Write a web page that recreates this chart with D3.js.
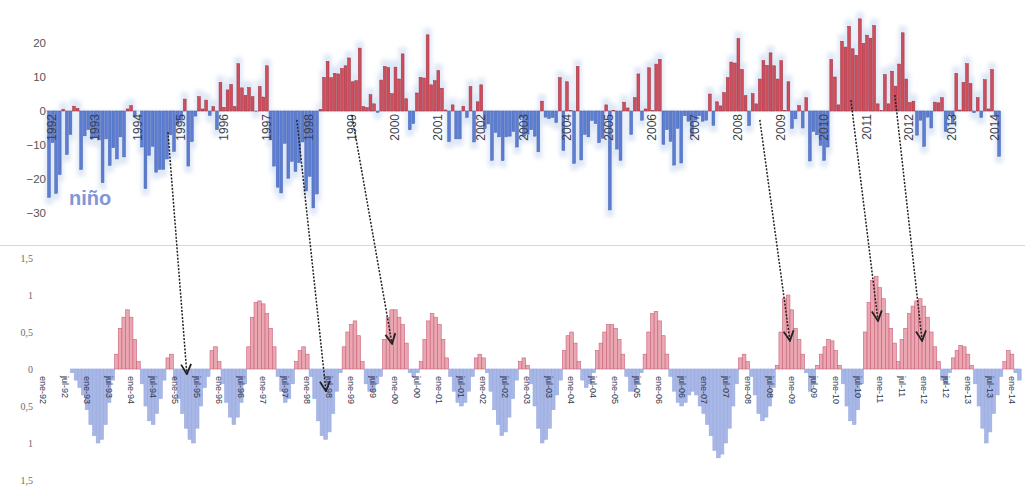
<!DOCTYPE html>
<html>
<head>
<meta charset="utf-8">
<script src="https://cdn.jsdelivr.net/npm/d3@7"></script>
<style>
  body { margin: 0; background: #fff; }
  svg { display: block; }
</style>
</head>
<body>
<svg></svg>
<script>
// monthly index, ene-1992 .. mar-2014 (one value per month)
const soi = [
  -25.4, -9.3, -24.2, -18.7, 0.5, -12.8, -6.9, 1.4, 0.8, -17.2, -7.3, -5.5,      // 1992
  -8.2, -7.9, -8.5, -21.1, -8.2, -16.0, -10.8, -14.1, -7.6, -13.5, 0.6, 1.6,     // 1993
  -1.5, 0.0, -10.6, -22.8, -13.0, -10.4, -18.0, -17.2, -17.2, -14.1, -7.0, -11.9,// 1994
  -4.0, -2.7, 3.5, -16.2, -9.0, -1.5, 4.2, 0.6, 3.2, -1.3, 1.3, -5.5,            // 1995
  8.4, 1.1, 6.2, 7.8, 1.3, 13.9, 6.8, 4.6, 6.9, 4.2, -0.1, 7.2,                  // 1996
  4.1, 13.3, -8.5, -16.2, -22.4, -24.1, -9.5, -19.8, -14.8, -17.8, -15.2, -9.1,  // 1997
  -23.5, -19.2, -28.5, -24.4, 0.5, 9.9, 14.6, 9.8, 11.1, 10.9, 12.5, 13.3,       // 1998
  15.6, 8.6, 8.9, 18.5, 1.3, 1.0, 4.8, 2.1, -0.4, 9.1, 13.1, 12.8,               // 1999
  5.1, 12.9, 9.4, 16.8, 3.6, -5.5, -3.7, 5.3, 9.9, 9.7, 22.4, 7.7,               // 2000
  8.9, 11.9, 6.7, 0.3, -9.0, 1.8, -8.2, -8.2, 1.4, -1.9, 7.2, -9.1,              // 2001
  2.7, 7.7, -5.2, -3.8, -14.5, -6.3, -7.6, -14.6, -7.6, -7.4, -6.0, -10.6,       // 2002
  -2.0, -7.4, -6.8, -5.5, -7.4, -12.0, 2.9, -1.8, -2.2, -1.9, -3.4, 9.8,         // 2003
  -11.6, 8.6, 0.2, -15.4, 13.1, -14.4, -6.9, -7.6, -2.8, -3.7, -9.3, -8.0,       // 2004
  1.8, -29.1, 0.2, -11.2, -14.5, 2.6, 0.9, -6.9, 3.9, 10.9, -2.7, 0.6,           // 2005
  12.7, 0.1, 13.8, 15.2, -9.8, -5.5, -8.9, -15.9, -5.1, -15.3, -1.4, -3.0,       // 2006
  -7.3, -2.7, -1.4, -3.0, -2.7, 5.0, -4.2, 2.7, 1.5, 5.4, 9.8, 14.4,             // 2007
  14.1, 21.3, 12.2, 4.5, -4.3, 5.1, 2.1, 9.4, 14.8, 13.4, 17.1, 13.3,            // 2008
  9.4, 14.8, 0.2, 8.6, -5.1, -2.3, 1.6, -5.0, 3.9, -14.7, -6.0, -7.0,            // 2009
  -10.1, -14.5, -10.6, 15.2, 10.0, 1.8, 20.5, 18.8, 24.9, 18.3, 16.4, 27.1,      // 2010
  19.9, 22.3, 21.4, 25.1, 2.1, 0.2, 10.7, 2.1, 11.7, 7.3, 13.8, 23.0,            // 2011
  9.4, 2.5, 2.9, -7.1, -2.7, -10.4, -1.8, -5.0, 2.6, 2.4, 3.9, -6.0,             // 2012
  -1.1, -3.6, 11.1, 0.3, 8.4, 13.9, 8.1, -0.5, 3.9, -1.9, 9.2, 0.6,              // 2013
  12.2, -1.3, -13.3                                                              // 2014
];

// lower panel anomaly, ene-92 .. mar-14
const anomalia = [
  0, 0, 0, 0, 0, 0, 0, 0, -0.05, -0.15, -0.25, -0.35,                 // 1992
  -0.55, -0.75, -0.9, -1.0, -0.95, -0.75, -0.45, -0.15, 0.2, 0.55, 0.7, 0.8,
  0.7, 0.4, 0.1, -0.2, -0.5, -0.7, -0.75, -0.6, -0.4, -0.15, 0.15, 0.2,
  -0.15, -0.4, -0.6, -0.8, -0.95, -1.0, -0.8, -0.5, -0.25, -0.1, 0.25, 0.3,
  0.1, -0.2, -0.45, -0.65, -0.75, -0.65, -0.45, -0.2, 0.3, 0.7, 0.9, 0.92,
  0.88, 0.75, 0.55, 0.3, -0.1, -0.3, -0.45, -0.4, -0.2, 0.1, 0.25, 0.3,
  0.2, -0.1, -0.4, -0.7, -0.9, -0.95, -0.85, -0.6, -0.3, -0.05, 0.3, 0.5,
  0.6, 0.65, 0.45, 0.1, -0.2, -0.3, -0.3, -0.2, -0.1, 0.4, 0.7, 0.8,
  0.8, 0.7, 0.6, 0.35, -0.05, -0.1, -0.05, 0.1, 0.4, 0.65, 0.75, 0.7,   // 2000
  0.6, 0.4, 0.15, -0.1, -0.3, -0.45, -0.5, -0.45, -0.3, -0.1, 0.15, 0.2,
  0.15, -0.05, -0.3, -0.55, -0.75, -0.9, -0.85, -0.65, -0.4, -0.15, 0.1, 0.15,
  0.05, -0.2, -0.5, -0.8, -1.0, -0.95, -0.8, -0.55, -0.35, -0.15, 0.25, 0.45,
  0.5, 0.35, 0.1, -0.15, -0.25, -0.2, -0.05, 0.25, 0.35, 0.5, 0.6, 0.6,
  0.55, 0.4, 0.2, -0.1, -0.3, -0.3, -0.2, -0.05, 0.2, 0.5, 0.75, 0.78,
  0.65, 0.45, 0.2, -0.1, -0.3, -0.45, -0.5, -0.45, -0.35, -0.3, -0.35, -0.5,
  -0.6, -0.75, -0.9, -1.1, -1.2, -1.15, -1.0, -0.8, -0.5, -0.2, 0.15, 0.2,
  0.1, -0.1, -0.35, -0.6, -0.7, -0.65, -0.5, -0.25, 0.05, 0.5, 0.95, 1.0,
  0.8, 0.55, 0.4, 0.2, -0.05, -0.3, -0.2, 0.05, 0.2, 0.3, 0.4, 0.38,
  0.25, 0.05, -0.2, -0.5, -0.7, -0.75, -0.55, -0.2, 0.5, 0.9, 1.2, 1.25, // 2010
  1.1, 0.95, 0.75, 0.55, 0.35, 0.1, 0.4, 0.55, 0.75, 0.85, 0.92, 0.95,
  0.85, 0.7, 0.5, 0.3, 0.1, -0.15, -0.2, -0.05, 0.15, 0.25, 0.32, 0.3,
  0.2, 0.05, -0.2, -0.5, -0.8, -1.0, -0.85, -0.6, -0.35, -0.1, 0.1, 0.25,
  0.2, -0.05, -0.15
];

const years = d3.range(1992, 2015);
const halfYear = ["ene", "jul"];
const topTicks = [20, 10, 0, -10, -20, -30];
const bottomTicks = [1.5, 1, 0.5, 0, -0.5, -1, -1.5];

// arrows: [month, value] in upper panel -> [month, value] in lower panel
const arrowStart = [[33.3, -6.2], [69.4, -2.6], [84.8, -1.2], [199.0, -2.6], [224.5, 3.2], [236.8, 4.7]];
const arrowEnd   = [[39.2, -0.07], [77.1, -0.3], [95.1, 0.34], [203.5, 0.38], [227.5, 0.65], [239.5, 0.38]];

const svgWidth = 1025, svgHeight = 497;

const svg = d3.select("svg")
    .attr("width", svgWidth)
    .attr("height", svgHeight);

const defs = svg.append("defs");
defs.append("filter").attr("id", "haze")
    .attr("x", "-50%").attr("y", "-50%").attr("width", "200%").attr("height", "200%")
    .append("feGaussianBlur").attr("stdDeviation", 2.2);
defs.append("filter").attr("id", "soft")
    .append("feGaussianBlur").attr("stdDeviation", 0.35);
defs.append("marker")
    .attr("id", "head")
    .attr("viewBox", "0 0 12 12")
    .attr("refX", 11).attr("refY", 6)
    .attr("markerWidth", 12).attr("markerHeight", 12)
    .attr("markerUnits", "userSpaceOnUse")
    .attr("orient", "auto")
    .append("path")
    .attr("d", "M1,1 L11,6 L1,11")
    .attr("fill", "none")
    .attr("stroke", "#222")
    .attr("stroke-width", 1.8);

svg.append("rect").attr("width", svgWidth).attr("height", svgHeight).attr("fill", "#fff");

// ---------- upper panel ----------
const xTop = d3.scaleLinear().domain([0, 264]).range([49, 992]);
const yTop = d3.scaleLinear().domain([-30, 20]).range([213, 43]);
const barW = 2.8;

const gTop = svg.append("g");

gTop.append("g")
    .attr("filter", "url(#haze)")
    .selectAll("rect")
    .data(soi)
    .enter().append("rect")
    .attr("x", (d, i) => xTop(i) - 4)
    .attr("width", 8)
    .attr("y", d => yTop(d > 0 ? d + 2 : 0))
    .attr("height", d => Math.abs(yTop(d > 0 ? d + 2 : d - 2) - yTop(0)))
    .attr("fill", "#dfe8f6");

gTop.append("line")
    .attr("x1", 46).attr("x2", 1000)
    .attr("y1", yTop(0)).attr("y2", yTop(0))
    .attr("stroke", "#cbd3e6").attr("stroke-width", 1);

gTop.append("g")
    .attr("filter", "url(#soft)")
    .selectAll("rect")
    .data(soi)
    .enter().append("rect")
    .attr("x", (d, i) => xTop(i) - barW / 2)
    .attr("width", barW)
    .attr("y", d => yTop(Math.max(0, d)))
    .attr("height", d => Math.abs(yTop(d) - yTop(0)))
    .attr("fill", d => d >= 0 ? "#d04d5c" : "#5b7dd0")
    .attr("stroke", d => d >= 0 ? "#9b2f3f" : "#4865b8")
    .attr("stroke-width", 0.5);

const axTop = gTop.append("g")
    .attr("transform", "translate(46,0)")
    .call(d3.axisLeft(yTop).tickValues(topTicks).tickSize(0).tickPadding(0));
axTop.select(".domain").remove();
axTop.selectAll("text")
    .attr("font-family", "Liberation Sans, Arial, sans-serif")
    .attr("font-size", 11.5)
    .attr("fill", "#555");

gTop.append("g")
    .selectAll("text")
    .data(years)
    .enter().append("text")
    .attr("transform", d => "translate(" + (xTop((d - 1992) * 12) + 3) + "," + (yTop(0) + 3) + ") rotate(-90)")
    .attr("text-anchor", "end")
    .attr("dy", "0.35em")
    .attr("font-family", "Liberation Sans, Arial, sans-serif")
    .attr("font-size", 12)
    .attr("fill", "#3c3f4a")
    .text(d => d);

gTop.append("text")
    .attr("x", 69).attr("y", 205)
    .attr("font-family", "Liberation Sans, Arial, sans-serif")
    .attr("font-size", 20)
    .attr("font-weight", "bold")
    .attr("fill", "#8096d8")
    .text("niño");

svg.append("line")
    .attr("x1", 0).attr("x2", svgWidth)
    .attr("y1", 245.5).attr("y2", 245.5)
    .attr("stroke", "#cfd7e6").attr("stroke-width", 1);

// ---------- lower panel ----------
const xBot = d3.scaleLinear().domain([0, 264]).range([43, 1012]);
const yBot = d3.scaleLinear().domain([-1.5, 1.5]).range([480, 258]);
const botW = (xBot(1) - xBot(0));

const gBot = svg.append("g");

gBot.append("g")
    .attr("filter", "url(#soft)")
    .selectAll("rect")
    .data(anomalia)
    .enter().append("rect")
    .attr("x", (d, i) => xBot(i) - botW / 2)
    .attr("width", botW)
    .attr("y", d => yBot(Math.max(0, d)))
    .attr("height", d => Math.abs(yBot(d) - yBot(0)))
    .attr("fill", d => d >= 0 ? "#eaa7b2" : "#a8b7e6")
    .attr("stroke", d => d >= 0 ? "#c9627a" : "#98aae0")
    .attr("stroke-width", 0.6);

const axBot = gBot.append("g")
    .attr("transform", "translate(33,0)")
    .call(d3.axisLeft(yBot).tickValues(bottomTicks).tickSize(0).tickPadding(0)
        .tickFormat(d => String(Math.abs(d)).replace(".", ",")));
axBot.select(".domain").remove();
axBot.selectAll("text")
    .attr("font-family", "Liberation Serif, serif")
    .attr("font-size", 10)
    .attr("fill", "#6b6b6b");

const halfLabels = d3.range(0, 265, 6).map(m =>
    ({ m: m, label: halfYear[(m / 6) % 2] + "-" + String(1992 + Math.floor(m / 12)).slice(2) }));

gBot.append("g")
    .selectAll("text")
    .data(halfLabels)
    .enter().append("text")
    .attr("transform", d => "translate(" + xBot(d.m) + "," + (yBot(0) + 7) + ") rotate(90)")
    .attr("text-anchor", "start")
    .attr("dy", "0.35em")
    .attr("font-family", "Liberation Sans, Arial, sans-serif")
    .attr("font-size", 9)
    .attr("fill", "#2f3650")
    .text(d => d.label);

// ---------- arrows ----------
svg.append("g")
    .selectAll("line")
    .data(arrowStart)
    .enter().append("line")
    .attr("x1", d => xTop(d[0]))
    .attr("y1", d => yTop(d[1]))
    .attr("x2", (d, i) => xBot(arrowEnd[i][0]))
    .attr("y2", (d, i) => yBot(arrowEnd[i][1]))
    .attr("stroke", "#222")
    .attr("stroke-width", 1.5)
    .attr("stroke-dasharray", "2,1.5")
    .attr("marker-end", "url(#head)");
</script>
</body>
</html>
